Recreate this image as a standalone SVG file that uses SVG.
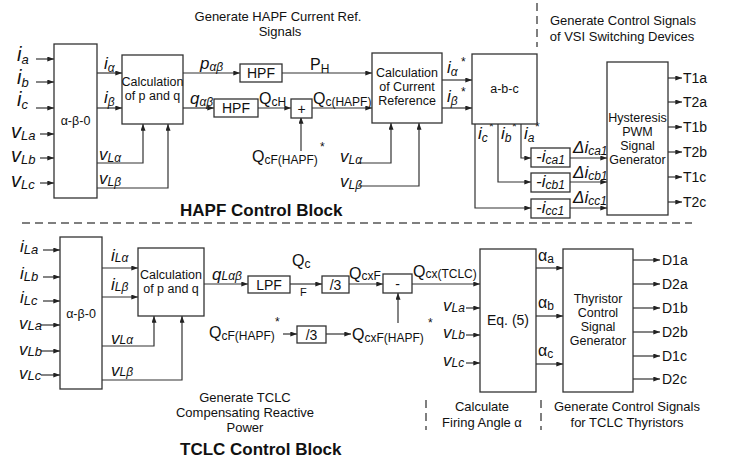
<svg xmlns="http://www.w3.org/2000/svg" width="733" height="462" viewBox="0 0 733 462">
<defs>
<marker id="ah" viewBox="0 0 8 6" refX="8" refY="3" markerWidth="7" markerHeight="5" orient="auto" markerUnits="userSpaceOnUse">
<path d="M0,0 L8,3 L0,6 Z" fill="#222"/>
</marker>
<style>
text{font-family:"Liberation Sans",Arial,sans-serif;fill:#111}
.box{fill:#fff;stroke:#333;stroke-width:1.3}
.ln{fill:none;stroke:#333;stroke-width:1.2}
.ar{fill:none;stroke:#333;stroke-width:1.2;marker-end:url(#ah)}
.dash{fill:none;stroke:#555;stroke-width:1.5;stroke-dasharray:8,5}
.t12{font-size:12px}
.t13{font-size:13px}
.t14{font-size:14px}
.bt{font-size:12.5px}
.it{font-style:italic}
.big{font-size:20px;font-style:italic}
.mid{font-size:17px;font-style:italic}
.sub{font-size:13px;font-style:italic}
.subs{font-size:12px;font-style:italic}
.Q{font-size:16px}
.qs{font-size:12px}
.bold{font-size:17px;font-weight:bold}
</style>
</defs>

<!-- Titles / section text -->
<text class="t13" x="278" y="21" text-anchor="middle">Generate HAPF Current Ref.</text>
<text class="t13" x="280" y="36" text-anchor="middle">Signals</text>
<text class="t13" x="623" y="25" text-anchor="middle">Generate Control Signals</text>
<text class="t13" x="622" y="41" text-anchor="middle">of VSI Switching Devices</text>
<text class="bold" x="180" y="216">HAPF Control Block</text>
<text class="t13" x="245" y="402" text-anchor="middle">Generate TCLC</text>
<text class="t13" x="245" y="417" text-anchor="middle">Compensating Reactive</text>
<text class="t13" x="245" y="432" text-anchor="middle">Power</text>
<text class="bold" x="180" y="455">TCLC Control Block</text>
<text class="t13" x="482" y="411" text-anchor="middle">Calculate</text>
<text class="t13" x="482" y="427" text-anchor="middle">Firing Angle α</text>
<text class="t13" x="627" y="411" text-anchor="middle">Generate Control Signals</text>
<text class="t13" x="627" y="427" text-anchor="middle">for TCLC Thyristors</text>

<line class="dash" x1="537" y1="3" x2="537" y2="47"/>
<line class="dash" x1="22" y1="223" x2="692" y2="223"/>
<line class="dash" x1="426" y1="400" x2="426" y2="430"/>
<line class="dash" x1="541" y1="400" x2="541" y2="430"/>

<!-- Connectors -->
<g id="connectors">
<line class="ar" x1="36" y1="59" x2="54" y2="59"/>
<line class="ar" x1="36" y1="82" x2="54" y2="82"/>
<line class="ar" x1="36" y1="108" x2="54" y2="108"/>
<line class="ar" x1="40" y1="134" x2="54" y2="134"/>
<line class="ar" x1="40" y1="158" x2="54" y2="158"/>
<line class="ar" x1="40" y1="183" x2="54" y2="183"/>
<line class="ar" x1="97" y1="73" x2="122" y2="73"/>
<line class="ar" x1="97" y1="108" x2="122" y2="108"/>
<polyline class="ar" points="97,163 143,163 143,124"/>
<polyline class="ar" points="97,188 168,188 168,124"/>
<line class="ar" x1="183" y1="73" x2="240" y2="73"/>
<line class="ar" x1="282" y1="73" x2="372" y2="73"/>
<line class="ar" x1="183" y1="108" x2="214" y2="108"/>
<line class="ar" x1="258" y1="108" x2="291" y2="108"/>
<line class="ar" x1="301" y1="151" x2="301" y2="117"/>
<line class="ar" x1="312" y1="108" x2="372" y2="108"/>
<polyline class="ar" points="358,163 391,163 391,123"/>
<polyline class="ar" points="358,186 419,186 419,123"/>
<line class="ar" x1="442" y1="80" x2="472" y2="80"/>
<line class="ar" x1="442" y1="108" x2="472" y2="108"/>
<polyline class="ar" points="521,124 521,158 531,158"/>
<polyline class="ar" points="498,124 498,182 531,182"/>
<polyline class="ar" points="475,124 475,208 531,208"/>
<line class="ar" x1="570" y1="158" x2="607" y2="158"/>
<line class="ar" x1="570" y1="182" x2="607" y2="182"/>
<line class="ar" x1="570" y1="208" x2="607" y2="208"/>
<line class="ar" x1="668" y1="78" x2="682" y2="78"/>
<line class="ar" x1="668" y1="102" x2="682" y2="102"/>
<line class="ar" x1="668" y1="127" x2="682" y2="127"/>
<line class="ar" x1="668" y1="152" x2="682" y2="152"/>
<line class="ar" x1="668" y1="177" x2="682" y2="177"/>
<line class="ar" x1="668" y1="202" x2="682" y2="202"/>
<line class="ar" x1="43" y1="250" x2="60" y2="250"/>
<line class="ar" x1="43" y1="277" x2="60" y2="277"/>
<line class="ar" x1="43" y1="301" x2="60" y2="301"/>
<line class="ar" x1="41" y1="325" x2="60" y2="325"/>
<line class="ar" x1="41" y1="351" x2="60" y2="351"/>
<line class="ar" x1="41" y1="375" x2="60" y2="375"/>
<line class="ar" x1="102" y1="268" x2="138" y2="268"/>
<line class="ar" x1="102" y1="297" x2="138" y2="297"/>
<polyline class="ar" points="102,346 154,346 154,316"/>
<polyline class="ar" points="102,380 182,380 182,316"/>
<line class="ar" x1="204" y1="284" x2="248" y2="284"/>
<line class="ar" x1="290" y1="284" x2="322" y2="284"/>
<line class="ar" x1="349" y1="284" x2="383" y2="284"/>
<line class="ar" x1="412" y1="284" x2="480" y2="284"/>
<line class="ar" x1="283" y1="334" x2="297" y2="334"/>
<line class="ar" x1="326" y1="334" x2="351" y2="334"/>
<line class="ar" x1="398" y1="323" x2="398" y2="293"/>
<line class="ar" x1="466" y1="308" x2="480" y2="308"/>
<line class="ar" x1="466" y1="335" x2="480" y2="335"/>
<line class="ar" x1="466" y1="363" x2="480" y2="363"/>
<line class="ar" x1="536" y1="268" x2="563" y2="268"/>
<line class="ar" x1="536" y1="316" x2="563" y2="316"/>
<line class="ar" x1="536" y1="364" x2="563" y2="364"/>
<line class="ar" x1="633" y1="260" x2="660" y2="260"/>
<line class="ar" x1="633" y1="284" x2="660" y2="284"/>
<line class="ar" x1="633" y1="308" x2="660" y2="308"/>
<line class="ar" x1="633" y1="332" x2="660" y2="332"/>
<line class="ar" x1="633" y1="356" x2="660" y2="356"/>
<line class="ar" x1="633" y1="379" x2="660" y2="379"/>
</g>

<g id="labels-top">
<text x="17" y="61"><tspan class="big">i</tspan><tspan class="sub" dy="3">a</tspan></text>
<text x="17" y="84"><tspan class="big">i</tspan><tspan class="sub" dy="3">b</tspan></text>
<text x="17" y="106"><tspan class="big">i</tspan><tspan class="sub" dy="3">c</tspan></text>
<text x="11" y="138"><tspan class="big">v</tspan><tspan class="sub" dy="2">La</tspan></text>
<text x="11" y="162"><tspan class="big">v</tspan><tspan class="sub" dy="2">Lb</tspan></text>
<text x="11" y="187"><tspan class="big">v</tspan><tspan class="sub" dy="2">Lc</tspan></text>
<text x="104" y="69"><tspan class="mid">i</tspan><tspan class="subs" dy="3">α</tspan></text>
<text x="104" y="103"><tspan class="mid">i</tspan><tspan class="subs" dy="3">β</tspan></text>
<text x="99" y="160"><tspan class="mid">v</tspan><tspan class="subs" dy="2">Lα</tspan></text>
<text x="99" y="184"><tspan class="mid">v</tspan><tspan class="subs" dy="2">Lβ</tspan></text>
<text x="200" y="69"><tspan class="mid">p</tspan><tspan class="subs" dy="2">αβ</tspan></text>
<text x="190" y="104"><tspan class="mid">q</tspan><tspan class="subs" dy="2">αβ</tspan></text>
<text x="310" y="70"><tspan class="Q">P</tspan><tspan class="qs" dy="3">H</tspan></text>
<text x="259" y="104"><tspan class="Q">Q</tspan><tspan class="qs" dy="2">cH</tspan></text>
<text x="313" y="104"><tspan class="Q">Q</tspan><tspan class="qs" dy="2">c(HAPF)</tspan></text>
<text x="252" y="162"><tspan class="Q">Q</tspan><tspan class="qs" dy="2">cF(HAPF)</tspan></text>
<text class="qs" x="320" y="151">*</text>
<text x="340" y="162"><tspan class="mid">v</tspan><tspan class="subs" dy="2">Lα</tspan></text>
<text x="340" y="187"><tspan class="mid">v</tspan><tspan class="subs" dy="2">Lβ</tspan></text>
<text x="447" y="73"><tspan class="mid">i</tspan><tspan class="subs" dy="3">α</tspan></text>
<text class="qs" x="461" y="66">*</text>
<text x="447" y="102"><tspan class="mid">i</tspan><tspan class="subs" dy="3">β</tspan></text>
<text class="qs" x="461" y="96">*</text>
<text x="478" y="139"><tspan class="mid">i</tspan><tspan class="subs" dy="3">c</tspan></text>
<text class="qs" x="489" y="131">*</text>
<text x="501" y="139"><tspan class="mid">i</tspan><tspan class="subs" dy="3">b</tspan></text>
<text class="qs" x="512" y="131">*</text>
<text x="524" y="139"><tspan class="mid">i</tspan><tspan class="subs" dy="3">a</tspan></text>
<text class="qs" x="535" y="131">*</text>
<text x="573" y="153"><tspan class="mid">Δi</tspan><tspan class="subs" dy="2">ca1</tspan></text>
<text x="573" y="178"><tspan class="mid">Δi</tspan><tspan class="subs" dy="2">cb1</tspan></text>
<text x="573" y="203"><tspan class="mid">Δi</tspan><tspan class="subs" dy="2">cc1</tspan></text>
<text class="t14" x="683" y="83">T1a</text>
<text class="t14" x="683" y="107">T2a</text>
<text class="t14" x="683" y="132">T1b</text>
<text class="t14" x="683" y="157">T2b</text>
<text class="t14" x="683" y="182">T1c</text>
<text class="t14" x="683" y="207">T2c</text>
</g>

<g id="labels-bottom">
<text x="20" y="252"><tspan class="mid">i</tspan><tspan class="sub" dy="2">La</tspan></text>
<text x="20" y="279"><tspan class="mid">i</tspan><tspan class="sub" dy="2">Lb</tspan></text>
<text x="20" y="303"><tspan class="mid">i</tspan><tspan class="sub" dy="2">Lc</tspan></text>
<text x="19" y="329"><tspan class="mid">v</tspan><tspan class="sub" dy="1">La</tspan></text>
<text x="19" y="355"><tspan class="mid">v</tspan><tspan class="sub" dy="1">Lb</tspan></text>
<text x="19" y="379"><tspan class="mid">v</tspan><tspan class="sub" dy="1">Lc</tspan></text>
<text x="111" y="261"><tspan class="mid">i</tspan><tspan class="subs" dy="1">Lα</tspan></text>
<text x="111" y="290"><tspan class="mid">i</tspan><tspan class="subs" dy="1">Lβ</tspan></text>
<text x="111" y="344"><tspan class="mid">v</tspan><tspan class="subs">Lα</tspan></text>
<text x="111" y="376"><tspan class="mid">v</tspan><tspan class="subs">Lβ</tspan></text>
<text x="212" y="280"><tspan class="mid">q</tspan><tspan class="subs">Lαβ</tspan></text>
<text x="292" y="266"><tspan class="Q">Q</tspan><tspan class="qs" dy="2">c</tspan></text>
<text x="300" y="296" font-size="11">F</text>
<text x="349" y="279"><tspan class="Q">Q</tspan><tspan class="qs" dy="1">cxF</tspan></text>
<text x="413" y="277"><tspan class="Q">Q</tspan><tspan class="qs" dy="1">cx(TCLC)</tspan></text>
<text x="209" y="338"><tspan class="Q">Q</tspan><tspan class="qs" dy="2">cF(HAPF)</tspan></text>
<text class="qs" x="275" y="326">*</text>
<text x="352" y="340"><tspan class="Q">Q</tspan><tspan class="qs" dy="2">cxF(HAPF)</tspan></text>
<text class="qs" x="428" y="327">*</text>
<text x="443" y="311"><tspan class="mid">v</tspan><tspan class="subs" dy="1">La</tspan></text>
<text x="443" y="338"><tspan class="mid">v</tspan><tspan class="subs" dy="1">Lb</tspan></text>
<text x="443" y="366"><tspan class="mid">v</tspan><tspan class="subs" dy="1">Lc</tspan></text>
<text x="538" y="261"><tspan class="Q">α</tspan><tspan class="qs" dy="2">a</tspan></text>
<text x="538" y="308"><tspan class="Q">α</tspan><tspan class="qs" dy="2">b</tspan></text>
<text x="538" y="356"><tspan class="Q">α</tspan><tspan class="qs" dy="2">c</tspan></text>
<text class="t14" x="662" y="265">D1a</text>
<text class="t14" x="662" y="289">D2a</text>
<text class="t14" x="662" y="313">D1b</text>
<text class="t14" x="662" y="337">D2b</text>
<text class="t14" x="662" y="361">D1c</text>
<text class="t14" x="662" y="384">D2c</text>
</g>

<g id="abc0-top"><rect class="box" x="54" y="44" width="43" height="154"/><text class="bt" x="75.5" y="125" text-anchor="middle">α-β-0</text></g>
<g id="pq-top"><rect class="box" x="122" y="55" width="61" height="69"/><text class="bt" x="152.5" y="86" text-anchor="middle">Calculation</text><text class="bt" x="152.5" y="100" text-anchor="middle">of p and q</text></g>
<g id="hpf1"><rect class="box" x="240" y="64" width="42" height="18"/><text class="t14" x="261" y="78" text-anchor="middle">HPF</text></g>
<g id="hpf2"><rect class="box" x="214" y="99" width="44" height="18"/><text class="t14" x="236" y="113" text-anchor="middle">HPF</text></g>
<g id="plus"><rect class="box" x="291" y="99" width="21" height="19"/><text class="t14" x="301.5" y="114" text-anchor="middle">+</text></g>
<g id="curref"><rect class="box" x="372" y="53" width="70" height="70"/><text class="bt" x="407" y="77" text-anchor="middle">Calculation</text><text class="bt" x="407" y="91" text-anchor="middle">of Current</text><text class="bt" x="407" y="105" text-anchor="middle">Reference</text></g>
<g id="abc"><rect class="box" x="472" y="54" width="65" height="70"/><text class="bt" x="504.5" y="93" text-anchor="middle">a-b-c</text></g>
<g id="ica1"><rect class="box" x="531" y="148" width="39" height="19"/><text x="536" y="162"><tspan class="mid" font-size="15">-i</tspan><tspan class="subs" font-size="11" dy="2">ca1</tspan></text></g>
<g id="icb1"><rect class="box" x="531" y="173" width="39" height="19"/><text x="536" y="187"><tspan class="mid" font-size="15">-i</tspan><tspan class="subs" font-size="11" dy="2">cb1</tspan></text></g>
<g id="icc1"><rect class="box" x="531" y="199" width="39" height="19"/><text x="536" y="213"><tspan class="mid" font-size="15">-i</tspan><tspan class="subs" font-size="11" dy="2">cc1</tspan></text></g>
<g id="hpwm"><rect class="box" x="607" y="62" width="61" height="153"/><text class="bt" x="637.5" y="122" text-anchor="middle">Hysteresis</text><text class="bt" x="637.5" y="136" text-anchor="middle">PWM</text><text class="bt" x="637.5" y="150" text-anchor="middle">Signal</text><text class="bt" x="637.5" y="164" text-anchor="middle">Generator</text></g>

<g id="abc0-bot"><rect class="box" x="60" y="237" width="42" height="152"/><text class="bt" x="81" y="318" text-anchor="middle">α-β-0</text></g>
<g id="pq-bot"><rect class="box" x="138" y="248" width="66" height="68"/><text class="bt" x="171" y="279" text-anchor="middle">Calculation</text><text class="bt" x="171" y="293" text-anchor="middle">of p and q</text></g>
<g id="lpf"><rect class="box" x="248" y="276" width="42" height="17"/><text class="t14" x="269" y="290" text-anchor="middle">LPF</text></g>
<g id="div1"><rect class="box" x="322" y="276" width="27" height="17"/><text class="t14" x="335.5" y="290" text-anchor="middle">/3</text></g>
<g id="minus"><rect class="box" x="383" y="274" width="29" height="19"/><text class="t14" x="397.5" y="289" text-anchor="middle">-</text></g>
<g id="div2"><rect class="box" x="297" y="326" width="29" height="17"/><text class="t14" x="311.5" y="340" text-anchor="middle">/3</text></g>
<g id="eq5"><rect class="box" x="480" y="249" width="56" height="143"/><text class="t14" x="508" y="325" text-anchor="middle">Eq. (5)</text></g>
<g id="thy"><rect class="box" x="563" y="249" width="70" height="143"/><text class="bt" x="598" y="303" text-anchor="middle">Thyristor</text><text class="bt" x="598" y="317" text-anchor="middle">Control</text><text class="bt" x="598" y="331" text-anchor="middle">Signal</text><text class="bt" x="598" y="345" text-anchor="middle">Generator</text></g>
</svg>
